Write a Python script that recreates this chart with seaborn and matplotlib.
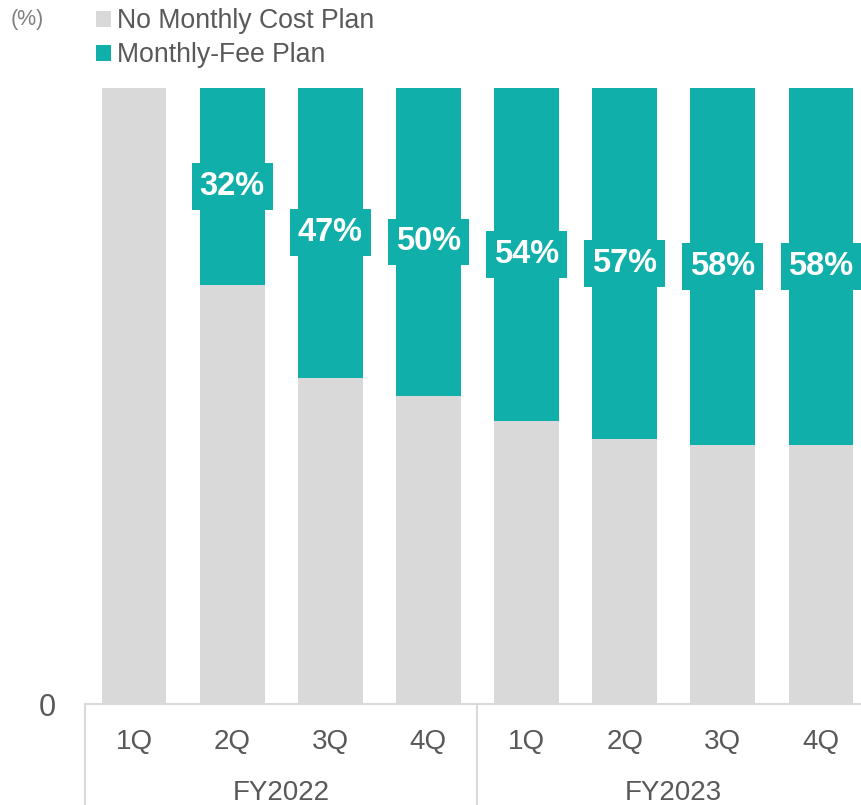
import matplotlib
matplotlib.use("Agg")
import matplotlib.pyplot as plt
from matplotlib.patches import Patch
import seaborn as sns
import pandas as pd

# Share of subscribers by plan type (percent of total)
fiscal_years = ["FY2022", "FY2023"]
quarters = ["1Q", "2Q", "3Q", "4Q"]
monthly_fee_share = [0, 32, 47, 50, 54, 57, 58, 58]
no_cost_share = [100 - v for v in monthly_fee_share]
series_names = ["No Monthly Cost Plan", "Monthly-Fee Plan"]

GRAY = "#D9D9D9"
TEAL = "#10AFA9"
TEXT = "#595959"

sns.set_theme(style="white")
plt.rcParams["font.family"] = ["Liberation Sans", "DejaVu Sans"]

periods = [f"{fy} {q}" for fy in fiscal_years for q in quarters]
df = pd.DataFrame({
    "period": periods,
    "total": [100] * len(periods),
    "no_cost": no_cost_share,
    "fee": monthly_fee_share,
})

fig = plt.figure(figsize=(8.61, 8.05), dpi=100)
ax = fig.add_axes([85 / 861, 101 / 805, 785 / 861, 616 / 805])

# Stacked look: full-height teal bar, then the no-cost share drawn over it
sns.barplot(data=df, x="period", y="total", order=periods, color=TEAL,
            width=0.66, linewidth=0, saturation=1, ax=ax)
sns.barplot(data=df, x="period", y="no_cost", order=periods, color=GRAY,
            width=0.66, linewidth=0, saturation=1, ax=ax)

ax.set_xlim(-0.5, len(periods) - 0.5)
ax.set_ylim(0, 100)
ax.set_xlabel("")
ax.set_ylabel("")

# Percentage labels centred in the monthly-fee segment
for i, (fee, base) in enumerate(zip(monthly_fee_share, no_cost_share)):
    if fee <= 0:
        continue
    ax.text(i, base + fee / 2, f"{fee}%", ha="center", va="center",
            fontsize=23.5, fontweight="bold", color="white",
            bbox=dict(boxstyle="square,pad=0.24", fc=TEAL, ec="none"))

# Axes styling
for side in ["top", "right", "left"]:
    ax.spines[side].set_visible(False)
ax.spines["bottom"].set_color(GRAY)
ax.spines["bottom"].set_linewidth(1.5)
ax.set_yticks([0])
ax.set_yticklabels(["0"])
ax.set_xticks(range(len(periods)))
ax.set_xticklabels([q for _ in fiscal_years for q in quarters])
ax.tick_params(axis="x", length=0, pad=18, labelsize=20, labelcolor=TEXT)
ax.tick_params(axis="y", length=0, pad=21, labelsize=22, labelcolor=TEXT)

# Fiscal-year grouping: separators and labels below the quarters
trans = ax.get_xaxis_transform()
for k in range(len(fiscal_years)):
    x0 = k * len(quarters) - 0.5
    ax.plot([x0, x0], [0, -0.2], transform=trans, color=GRAY, lw=1.5,
            clip_on=False)
    ax.text(x0 + len(quarters) / 2, -0.145, fiscal_years[k], transform=trans,
            ha="center", va="center", fontsize=20, color=TEXT)

# Unit label and legend
fig.text(27 / 861, 1 - 19 / 805, "(%)", ha="center", va="center",
         fontsize=15.5, color="#7F7F7F")
handles = [Patch(facecolor=GRAY, edgecolor="none"),
           Patch(facecolor=TEAL, edgecolor="none")]
fig.legend(handles, series_names, loc="upper left",
           bbox_to_anchor=(96 / 861, 1 - 8 / 805), frameon=False,
           fontsize=19.2, labelcolor=TEXT, handlelength=0.55,
           handleheight=0.55, handletextpad=0.25, labelspacing=0.3,
           borderpad=0, borderaxespad=0)

fig.savefig("out.png", dpi=100)
